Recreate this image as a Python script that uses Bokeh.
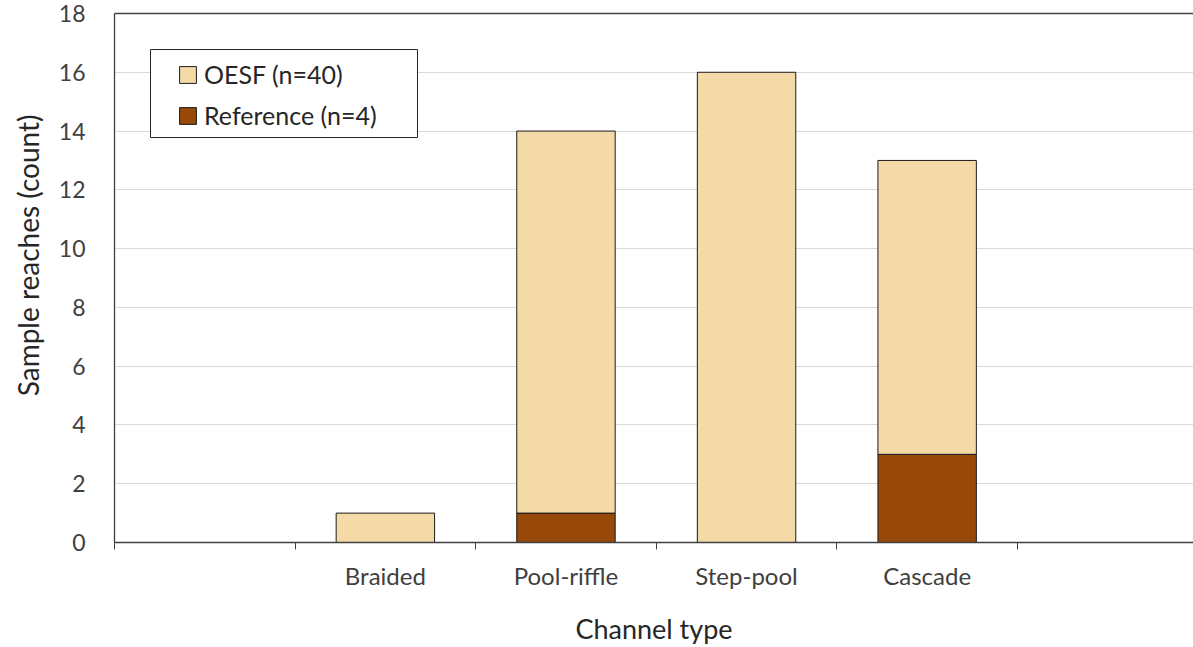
from bokeh.plotting import figure
from bokeh.models import (ColumnDataSource, Range1d, FixedTicker, LinearAxis,
                          Legend, LegendItem, BoxAnnotation, Title)
from bokeh.embed import file_html
from bokeh.resources import INLINE

# Sample reaches per channel type (empty slots flank the four named types)
channel_types = ["", "Braided", "Pool-riffle", "Step-pool", "Cascade", ""]
oesf = [0, 1, 13, 16, 10, 0]
reference = [0, 0, 1, 0, 3, 0]
y_ticks = [0, 2, 4, 6, 8, 10, 12, 14, 16, 18]

FONT = "Lato"
TEXT = "#404040"
TITLE = "#262626"
OESF_COLOR = "#F4DAA7"
REF_COLOR = "#984808"

slot_centers = [i + 0.5 for i in range(len(channel_types))]
source = ColumnDataSource(dict(x=slot_centers, reference=reference, oesf=oesf))

p = figure(width=1193, height=647, output_backend="svg", toolbar_location=None,
           x_range=Range1d(0, 5.975), y_range=Range1d(0, 18),
           min_border_left=114, min_border_right=0, min_border_top=13,
           min_border_bottom=105)
p.outline_line_color = None
p.background_fill_color = "white"
p.border_fill_color = "white"

renderers = p.vbar_stack(["reference", "oesf"], x="x", width=0.545, source=source,
                         color=[REF_COLOR, OESF_COLOR], line_color="#1a1a1a",
                         line_width=1)
r_ref, r_oesf = renderers

# x axis: labels at slot centers, tick marks at slot boundaries
xa = p.xaxis[0]
xa.ticker = FixedTicker(ticks=slot_centers[1:5],
                        minor_ticks=list(range(len(channel_types))))
xa.major_label_overrides = {c: channel_types[i] for i, c in enumerate(slot_centers)
                            if channel_types[i]}
xa.major_tick_line_color = None
xa.major_tick_out = 7
xa.minor_tick_line_color = "#404040"
xa.minor_tick_out = 7
xa.minor_tick_in = 0
xa.axis_line_color = "#404040"
xa.axis_line_width = 1.3
xa.major_label_text_font = FONT
xa.major_label_text_font_size = "24px"
xa.major_label_text_color = TEXT
xa.major_label_standoff = 11
xa.axis_label = "Channel type"
xa.axis_label_text_font = FONT
xa.axis_label_text_font_size = "27px"
xa.axis_label_text_font_style = "normal"
xa.axis_label_text_color = TITLE
xa.axis_label_standoff = 19

ya = p.yaxis[0]
ya.ticker = FixedTicker(ticks=y_ticks)
ya.major_tick_line_color = None
ya.minor_tick_line_color = None
ya.axis_line_color = "#404040"
ya.axis_line_width = 1.3
ya.major_label_text_font = FONT
ya.major_label_text_font_size = "23px"
ya.major_label_text_color = TEXT
ya.major_label_standoff = 23

p.xgrid.grid_line_color = None
p.ygrid.grid_line_color = "#D9D9D9"
p.ygrid.grid_line_width = 1

# top border line of the plot area
top = LinearAxis(ticker=FixedTicker(ticks=[]), axis_line_color="#404040",
                 axis_line_width=1.3, major_tick_line_color=None,
                 minor_tick_line_color=None, major_label_text_font_size="0px")
p.add_layout(top, "above")

# y axis title, anchored toward the upper part of the axis
p.add_layout(Title(text="Sample reaches (count)", align="right", offset=101,
                   vertical_align="top", text_font=FONT, text_font_size="28px",
                   text_font_style="normal", text_color=TITLE, standoff=17), "left")

# legend frame
p.add_layout(BoxAnnotation(left=36, right=303, bottom=405, top=493,
                           left_units="screen", right_units="screen",
                           bottom_units="screen", top_units="screen",
                           fill_color="white", fill_alpha=1.0,
                           line_color="#262626", line_alpha=1.0, line_width=1,
                           level="annotation"))

legend = Legend(items=[LegendItem(label=f"OESF (n={sum(oesf)})", renderers=[r_oesf]),
                       LegendItem(label=f"Reference (n={sum(reference)})", renderers=[r_ref])],
                location=(63, 412), padding=0, margin=0, spacing=11,
                glyph_width=21, glyph_height=21, label_height=21,
                label_standoff=6, label_text_font=FONT,
                label_text_font_size="25px", label_text_color=TITLE,
                border_line_color=None, background_fill_alpha=0)
p.add_layout(legend)

open("out.html", "w").write(file_html(p, INLINE))
